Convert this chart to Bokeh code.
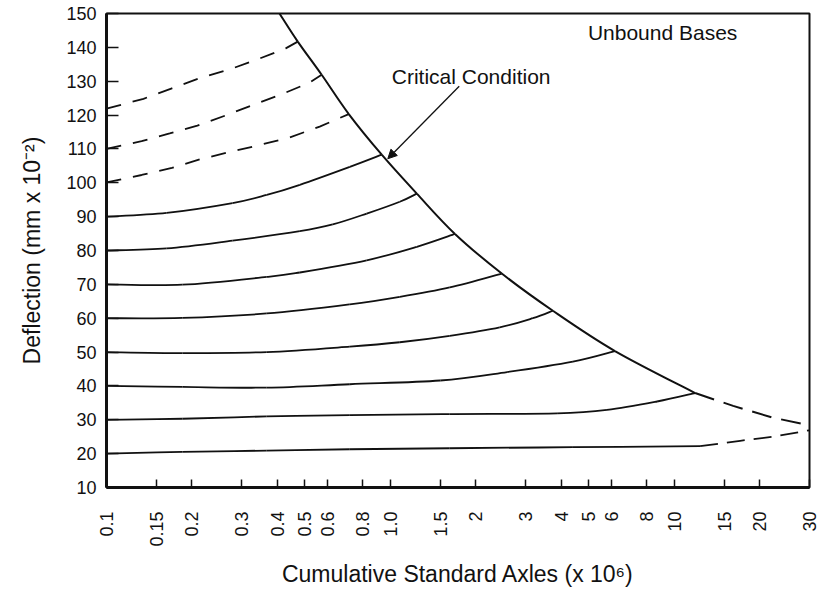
import math
from bokeh.plotting import figure
from bokeh.models import Range1d, FixedTicker, Label, Arrow, NormalHead
from bokeh.embed import file_html
from bokeh.resources import INLINE

# Cumulative standard axles (millions) and deflection (mm x 10^-2) along each curve
c120_x = [0.1, 0.135, 0.170, 0.216, 0.274, 0.344, 0.428, 0.472]
c120_y = [121.9, 124.8, 127.9, 131.1, 133.6, 136.6, 139.7, 141.7]

c110_x = [0.1, 0.133, 0.167, 0.209, 0.263, 0.333, 0.418, 0.520, 0.573]
c110_y = [110.0, 112.3, 114.6, 116.9, 119.9, 123.2, 126.3, 129.6, 131.9]

c100_x = [0.1, 0.133, 0.170, 0.213, 0.272, 0.344, 0.442, 0.564, 0.714]
c100_y = [100.1, 102.3, 104.4, 106.9, 109.1, 111.1, 113.4, 116.6, 120.3]

c90_x = [0.1, 0.163, 0.278, 0.367, 0.480, 0.720, 0.933]
c90_y = [90.0, 91.1, 94.0, 96.4, 99.4, 104.7, 108.3]

c80_x = [0.1, 0.163, 0.278, 0.480, 0.627, 0.826, 1.08, 1.24]
c80_y = [80.0, 80.6, 82.9, 85.7, 87.7, 90.9, 94.4, 96.8]

c70_x = [0.1, 0.185, 0.367, 0.480, 0.826, 1.24, 1.69]
c70_y = [70.0, 69.9, 72.2, 73.5, 77.1, 81.1, 84.9]

c60_x = [0.1, 0.185, 0.367, 0.720, 1.08, 1.62, 2.47]
c60_y = [60.0, 60.1, 61.4, 64.1, 66.3, 69.1, 73.2]

c50_x = [0.1, 0.185, 0.367, 0.720, 1.08, 1.62, 2.43, 3.18, 3.74]
c50_y = [50.0, 49.7, 50.0, 51.6, 52.9, 54.8, 57.3, 60.0, 62.2]

c40_x = [0.1, 0.185, 0.367, 0.720, 1.50, 2.58, 4.40, 6.19]
c40_y = [40.0, 39.7, 39.5, 40.5, 41.6, 44.1, 47.2, 50.3]

c30_x = [0.1, 0.185, 0.367, 0.720, 1.62, 3.87, 5.80, 8.71, 11.86]
c30_y = [30.0, 30.3, 31.0, 31.4, 31.7, 31.9, 32.9, 35.4, 37.9]

c20_x = [0.1, 0.185, 0.367, 0.720, 1.62, 4.40, 12.35]
c20_y = [20.0, 20.5, 20.9, 21.3, 21.6, 21.9, 22.2]

# Extrapolated part of the 20 curve
c20_ext_x = [12.35, 17.09, 22.35, 30.0]
c20_ext_y = [22.2, 23.8, 25.0, 26.9]

# Critical condition line and its extrapolation
crit_x = [0.407, 0.472, 0.573, 0.714, 0.933, 1.24, 1.69, 2.47, 3.74, 6.19, 11.86]
crit_y = [150.0, 141.7, 131.9, 120.3, 108.3, 96.8, 84.9, 73.2, 62.2, 50.3, 37.9]
crit_ext_x = [11.86, 16.15, 22.35, 30.0]
crit_ext_y = [37.9, 34.1, 30.6, 28.4]

x_ticks = [0.1, 0.15, 0.2, 0.3, 0.4, 0.5, 0.6, 0.8, 1.0, 1.5, 2.0, 3.0, 4.0, 5.0,
           6.0, 8.0, 10.0, 15.0, 20.0, 30.0]
x_tick_labels = ["0.1", "0.15", "0.2", "0.3", "0.4", "0.5", "0.6", "0.8", "1.0", "1.5",
                 "2", "3", "4", "5", "6", "8", "10", "15", "20", "30"]
y_ticks = [10, 20, 30, 40, 50, 60, 70, 80, 90, 100, 110, 120, 130, 140, 150]

FONT = "Liberation Sans"
INK = "#111111"

p = figure(width=819, height=590, x_axis_type="log",
           x_range=Range1d(0.1, 30), y_range=Range1d(10, 150),
           output_backend="svg", toolbar_location=None,
           min_border_left=106, min_border_right=10,
           min_border_top=13, min_border_bottom=103)

p.background_fill_color = "white"
p.border_fill_color = "white"
p.xgrid.visible = False
p.ygrid.visible = False
p.outline_line_color = INK
p.outline_line_width = 2

# Axes
p.xaxis.ticker = FixedTicker(ticks=x_ticks, minor_ticks=[])
p.xaxis.major_label_overrides = dict(zip(x_ticks, x_tick_labels))
p.xaxis.major_label_orientation = math.pi / 2
p.yaxis.ticker = FixedTicker(ticks=y_ticks, minor_ticks=[])

for ax in (p.xaxis[0], p.yaxis[0]):
    ax.axis_line_color = INK
    ax.axis_line_width = 3
    ax.major_tick_line_color = INK
    ax.major_tick_line_width = 1.5
    ax.major_tick_out = 0
    ax.minor_tick_line_color = None
    ax.major_label_text_font = FONT
    ax.major_label_text_font_size = "18px"
    ax.major_label_text_color = INK
    ax.axis_label_text_font = FONT
    ax.axis_label_text_font_size = "23px"
    ax.axis_label_text_font_style = "normal"
    ax.axis_label_text_color = INK

p.xaxis.major_tick_in = 8
p.yaxis.major_tick_in = 12
p.xaxis.major_label_standoff = 24
p.yaxis.major_label_standoff = 10
p.xaxis.axis_label_standoff = 11
p.yaxis.axis_label_standoff = 18
p.xaxis.axis_label = "Cumulative Standard Axles (x 10\u2076)"
p.yaxis.axis_label = "Deflection (mm x 10\u207b\u00b2)"


def smooth_curve(xs, ys, **style):
    """Draw a smooth curve through the given points (Catmull-Rom segments as cubic
    Beziers, built in log-x space so they follow the axis scale)."""
    us = [math.log10(v) for v in xs]
    n = len(us)
    seg = dict(x0=[], y0=[], x1=[], y1=[], cx0=[], cy0=[], cx1=[], cy1=[])
    for i in range(n - 1):
        a = max(i - 1, 0)
        b = min(i + 2, n - 1)
        cu0 = us[i] + (us[i + 1] - us[a]) / 6.0
        cv0 = ys[i] + (ys[i + 1] - ys[a]) / 6.0
        cu1 = us[i + 1] - (us[b] - us[i]) / 6.0
        cv1 = ys[i + 1] - (ys[b] - ys[i]) / 6.0
        seg["x0"].append(xs[i]); seg["y0"].append(ys[i])
        seg["x1"].append(xs[i + 1]); seg["y1"].append(ys[i + 1])
        seg["cx0"].append(10 ** cu0); seg["cy0"].append(cv0)
        seg["cx1"].append(10 ** cu1); seg["cy1"].append(cv1)
    p.bezier(source=seg, x0="x0", y0="y0", x1="x1", y1="y1",
             cx0="cx0", cy0="cy0", cx1="cx1", cy1="cy1", **style)


# Solid deflection curves
solid = [(c90_x, c90_y), (c80_x, c80_y), (c70_x, c70_y), (c60_x, c60_y),
         (c50_x, c50_y), (c40_x, c40_y), (c30_x, c30_y), (c20_x, c20_y)]
for xs, ys in solid:
    smooth_curve(xs, ys, line_color=INK, line_width=1.8)

# Dashed deflection curves
for xs, ys in [(c120_x, c120_y), (c110_x, c110_y), (c100_x, c100_y)]:
    p.line(xs, ys, line_color=INK, line_width=1.8, line_dash="15 12")

smooth_curve(crit_x, crit_y, line_color=INK, line_width=2)
p.line(crit_ext_x, crit_ext_y, line_color=INK, line_width=2, line_dash="20 10")
p.line(c20_ext_x, c20_ext_y, line_color=INK, line_width=1.8, line_dash="18 9")

# Annotations
p.add_layout(Label(x=4.97, y=144.5, text="Unbound Bases", text_font=FONT,
                   text_font_size="21px", text_color=INK,
                   text_baseline="middle", text_align="left"))
p.add_layout(Label(x=1.012, y=131.5, text="Critical Condition", text_font=FONT,
                   text_font_size="21px", text_color=INK,
                   text_baseline="middle", text_align="left"))
p.add_layout(Arrow(x_start=1.749, y_start=128.5, x_end=0.98, y_end=107.1,
                   line_color=INK, line_width=1.3,
                   end=NormalHead(size=9, fill_color=INK, line_color=INK)))

open("out.html", "w").write(file_html(p, INLINE))
